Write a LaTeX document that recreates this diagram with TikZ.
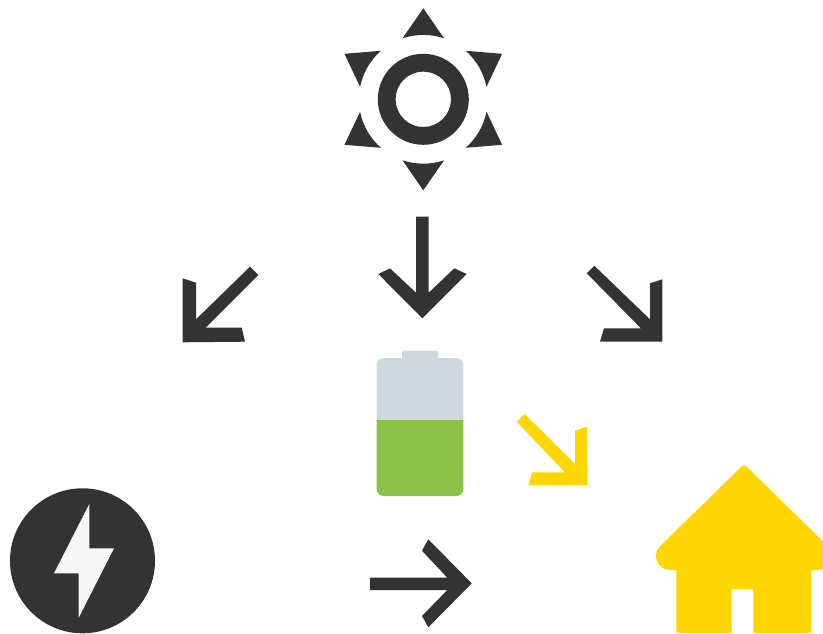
\documentclass[tikz,border=0pt]{standalone}
\usepackage{xcolor}
\definecolor{icondark}{HTML}{333333}
\definecolor{iconyellow}{HTML}{FFD600}
\definecolor{iconpale}{HTML}{F7F7F7}
\definecolor{cellgrey}{HTML}{CFD8DC}
\definecolor{cellgreen}{HTML}{8BC34A}
\tikzset{
  darkicon/.style={fill=icondark},
  yellowicon/.style={fill=iconyellow},
}
\begin{document}
\begin{tikzpicture}[x=1pt,y=-1pt]
\useasboundingbox (0,0) rectangle (823,633);
\clip (0,0) rectangle (823,633);
\begin{scope}[shift={(423.3,99.3)}]
\fill[darkicon, even odd rule] (0,0) circle[radius=45.5] (0,0) circle[radius=27.7];
\foreach \a in {0,60,...,300}
  \fill[darkicon, rotate=\a] (0,-91) -- (20.8,-61) .. controls (7,-65.5) and (-7,-65.5) .. (-20.8,-61) -- cycle;
\end{scope}
\fill[darkicon] (250,266.7) -- (258.3,275) -- (205.7,327.7) -- (241.7,327.7) -- (245,341.7) -- (182.7,342.3) -- (182.7,278.3) -- (196,282.7) -- (196,319.3) -- cycle;
\fill[darkicon] (416,216.7) -- (428.7,216.7) -- (428.7,292.7) -- (454.3,268.3) -- (466.7,274) -- (422.3,318.3) -- (378.3,274) -- (390,268.3) -- (416,292.7) -- cycle;
\fill[darkicon] (594.3,265.7) -- (586.7,273.3) -- (641,328.3) -- (604,328.3) -- (600,341.7) -- (662.3,341.7) -- (662.3,279.3) -- (650,283.3) -- (650,319.3) -- cycle;
\fill[darkicon] (370,577.7) -- (370,590) -- (447.3,590) -- (422,616) -- (428.3,627.3) -- (471.7,583.3) -- (428.3,539.3) -- (422,550.7) -- (447.3,577.7) -- cycle;
\fill[yellowicon] (524.7,414) -- (516.7,421.7) -- (565,472.3) -- (532.3,472.3) -- (528.3,485.3) -- (587.7,485.3) -- (587,426.7) -- (575,430.7) -- (575,464) -- cycle;
\fill[cellgrey, rounded corners=2] (402,362) -- (402,350.7) -- (438,350.7) -- (438,362) -- cycle;
\fill[cellgrey, rounded corners=7] (376.7,425) -- (376.7,358) -- (463.3,358) -- (463.3,425) -- cycle;
\fill[cellgreen] (376.7,420) -- (463.3,420) -- (463.3,489) .. controls (463.3,493) and (460.3,496) .. (456.3,496) -- (383.7,496) .. controls (379.7,496) and (376.7,493) .. (376.7,489) -- cycle;
\fill[darkicon] (82.5,560.8) circle[radius=72.5];
\fill[iconpale] (89.3,504) -- (89.3,548.3) -- (114,548.3) -- (78.7,617.7) -- (78.7,573.3) -- (54,573.3) -- cycle;
\fill[yellowicon] (738,470) .. controls (744,464) .. (750,470) -- (827.9,546.1) .. controls (836.7,554.9) and (830.5,570) .. (818,570) -- (811.3,570) -- (811.3,627) .. controls (811.3,633) .. (805.3,633) -- (753.3,633) -- (753.3,589.3) -- (731.7,589.3) -- (731.7,633) -- (682.3,633) .. controls (676.3,633) .. (676.3,627) -- (676.3,570) -- (670,570) .. controls (657.5,570) and (651.3,554.9) .. (660.1,546.1) -- cycle;
\end{tikzpicture}
\end{document}
